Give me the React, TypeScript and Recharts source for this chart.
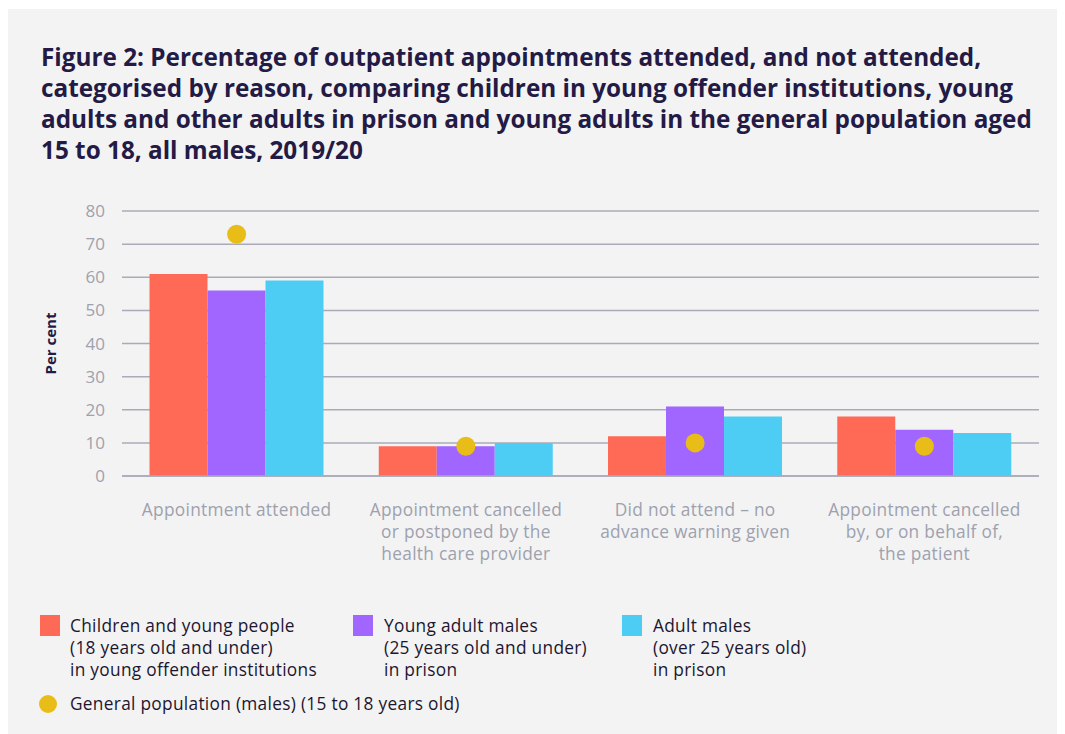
import React from "react";
import {
  ComposedChart,
  Bar,
  Scatter,
  XAxis,
  YAxis,
  CartesianGrid,
} from "recharts";

const categories = [
  "Appointment attended",
  "Appointment cancelled or postponed by the health care provider",
  "Did not attend – no advance warning given",
  "Appointment cancelled by, or on behalf of, the patient",
];
const categoryLines = [
  ["Appointment attended"],
  ["Appointment cancelled", "or postponed by the", "health care provider"],
  ["Did not attend – no", "advance warning given"],
  ["Appointment cancelled", "by, or on behalf of,", "the patient"],
];
const childrenYOI = [61, 9, 12, 18];
const youngAdults = [56, 9, 21, 14];
const adultMales = [59, 10, 18, 13];
const generalPop = [73, 9, 10, 9];
const yTicks = [0, 10, 20, 30, 40, 50, 60, 70, 80];

const titleLines = [
  "Figure 2: Percentage of outpatient appointments attended, and not attended,",
  "categorised by reason, comparing children in young offender institutions, young",
  "adults and other adults in prison and young adults in the general population aged",
  "15 to 18, all males, 2019/20",
];

const seriesNames = [
  ["Children and young people", "(18 years old and under)", "in young offender institutions"],
  ["Young adult males", "(25 years old and under)", "in prison"],
  ["Adult males", "(over 25 years old)", "in prison"],
];
const dotName = "General population (males) (15 to 18 years old)";

const COLORS = ["#ff6a57", "#a066ff", "#4ecdf4"];
const DOT = "#e9bd18";
const DARK = "#231a45";
const GRAY = "#9ea1ae";
const FONT = "'Open Sans', Lato, sans-serif";

const data = categories.map((c, i) => ({
  name: c,
  cyoi: childrenYOI[i],
  ya: youngAdults[i],
  am: adultMales[i],
  gp: generalPop[i],
}));

const XTick = (props: any) => {
  const { x, y, index } = props;
  const lines = categoryLines[index] || [];
  return (
    <text
      x={x}
      y={y}
      textAnchor="middle"
      fill={GRAY}
      fontSize={17.3}
      letterSpacing={0.3}
      fontFamily={FONT}
    >
      {lines.map((l: string, k: number) => (
        <tspan key={k} x={x} dy={k === 0 ? 32 : 22}>
          {l}
        </tspan>
      ))}
    </text>
  );
};

const Dot = (props: any) => {
  const { cx, cy } = props;
  if (cx == null || cy == null) return null;
  return <circle cx={cx} cy={cy} r={9.5} fill={DOT} />;
};

const legendSwatchX = [33, 346, 615];
const legendTextX = [63, 377, 646];

const legendText: React.CSSProperties = {
  position: "absolute",
  fontSize: 17.3,
  letterSpacing: 0.3,
  lineHeight: "22px",
  color: "#1c1630",
  whiteSpace: "nowrap",
};

export default function App() {
  return (
    <div
      style={{
        position: "relative",
        width: 1051,
        height: 726,
        marginLeft: -1,
        marginTop: 1,
        background: "#f3f3f3",
        fontFamily: FONT,
        overflow: "hidden",
      }}
    >
      <div
        style={{
          position: "absolute",
          left: 34,
          top: 32,
          fontSize: 24.3,
          lineHeight: "31px",
          fontWeight: 700,
          color: DARK,
          whiteSpace: "nowrap",
        }}
      >
        {titleLines.map((t, i) => (
          <div key={i}>{t}</div>
        ))}
      </div>

      <div style={{ position: "absolute", left: 1, top: 181 }}>
        <ComposedChart
          width={1040}
          height={390}
          data={data}
          margin={{ top: 21, right: 9, bottom: 0, left: 0 }}
          barCategoryGap="12%"
          barGap={0}
        >
          <CartesianGrid vertical={false} stroke="#a9abb8" strokeWidth={1.5} />
          <XAxis
            dataKey="name"
            axisLine={{ stroke: "#a9abb8", strokeWidth: 1.5 }}
            tickLine={false}
            tick={<XTick />}
            interval={0}
            height={104}
          />
          <YAxis
            domain={[0, 80]}
            ticks={yTicks}
            width={114}
            axisLine={false}
            tickLine={false}
            tickSize={0}
            tickMargin={17}
            tick={{ fill: GRAY, fontSize: 17, fontFamily: FONT }}
            label={{
              content: (p: any) => {
                const vb = p.viewBox || {};
                const cy = vb.y + vb.height / 2;
                return (
                  <text
                    x={42}
                    y={cy}
                    transform={`rotate(-90, 42, ${cy})`}
                    textAnchor="middle"
                    dominantBaseline="central"
                    fill={DARK}
                    fontWeight={700}
                    fontSize={15}
                    fontFamily={FONT}
                  >
                    Per cent
                  </text>
                );
              },
            }}
          />
          <Bar dataKey="cyoi" fill={COLORS[0]} isAnimationActive={false} />
          <Bar dataKey="ya" fill={COLORS[1]} isAnimationActive={false} />
          <Bar dataKey="am" fill={COLORS[2]} isAnimationActive={false} />
          <Scatter dataKey="gp" fill={DOT} shape={<Dot />} isAnimationActive={false} />
        </ComposedChart>
      </div>

      {seriesNames.map((lines, i) => (
        <React.Fragment key={i}>
          <div
            style={{
              position: "absolute",
              left: legendSwatchX[i],
              top: 606,
              width: 20,
              height: 21,
              background: COLORS[i],
            }}
          />
          <div style={{ ...legendText, left: legendTextX[i], top: 606 }}>
            {lines.map((l, k) => (
              <div key={k}>{l}</div>
            ))}
          </div>
        </React.Fragment>
      ))}
      <div
        style={{
          position: "absolute",
          left: 32,
          top: 686,
          width: 18,
          height: 18,
          borderRadius: "50%",
          background: DOT,
        }}
      />
      <div style={{ ...legendText, left: 63, top: 684 }}>{dotName}</div>
    </div>
  );
}
